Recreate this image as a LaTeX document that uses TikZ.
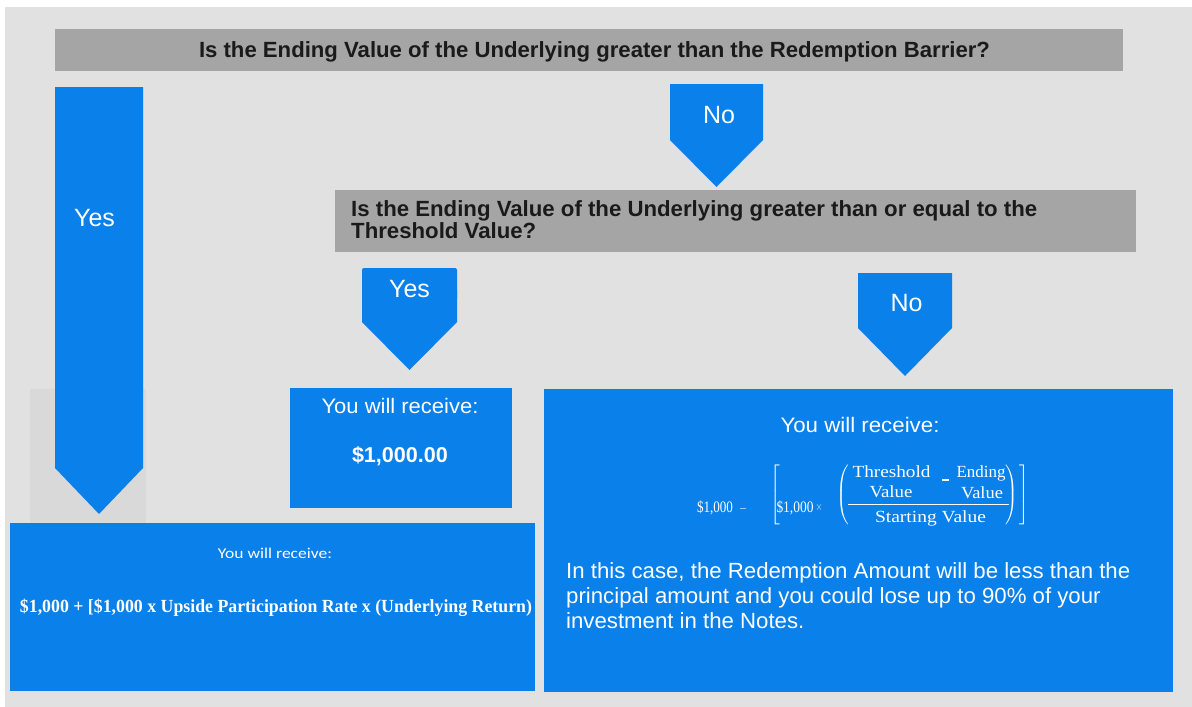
\documentclass[tikz,border=0pt]{standalone}
\usepackage{fontspec}
\usepackage{amsmath}
\setmainfont{Liberation Sans}
\newfontfamily\calib{Carlito}
\newfontfamily\serifb{Liberation Serif}
\newcommand\fitw[2]{\resizebox{#1}{\height}{#2}}
\newcommand\fs[1]{\fontsize{#1}{#1}\selectfont}
\newcommand\tallL[1]{\nulldelimiterspace=0pt$\left#1\vcenter{\hbox{\rule{0pt}{60pt}}}\right.$}
\newcommand\tallR[1]{\nulldelimiterspace=0pt$\left.\vcenter{\hbox{\rule{0pt}{60pt}}}\right#1$}
\definecolor{bgc}{HTML}{E1E1E1}
\definecolor{barc}{HTML}{A5A5A5}
\definecolor{bluc}{HTML}{0A80EA}
\definecolor{shadec}{HTML}{D9D9D9}
\definecolor{inkc}{HTML}{1A1A1A}
\newcommand\darrowshape[5]{\fill[bluc] (#1,#3) -- (#2,#3) -- (#2,#4) -- ({(#1+#2)/2},#5) -- (#1,#4) -- cycle;}
\tikzset{
  bartext/.style={text=inkc, font=\bfseries, inner sep=0pt},
  wtext/.style={text=white, inner sep=0pt},
  ftext/.style={text=white, inner sep=0pt, anchor=base, font=\serifb},
  delim/.style={text=white, inner sep=0pt, font=\fs{14}},
  fline/.style={draw=white, line width=1pt},
  bluebox/.style={fill=bluc},
}
\begin{document}
\begin{tikzpicture}[x=1pt,y=-1pt]
\useasboundingbox (0,0) rectangle (1192,707);
\fill[white] (0,0) rectangle (1192,707);
\fill[bgc] (5,7) rectangle (1192,707);
\fill[shadec] (30,389) rectangle (146,523);
% top question bar
\fill[barc] (55,29) rectangle (1123,71);
\node[bartext, anchor=base] (q1) at (594.5,57) {\fitw{791pt}{\fs{22}Is the Ending Value of the Underlying greater than the Redemption Barrier?}};
% left Yes arrow
\darrowshape{55}{143}{87}{468}{514}
\node[wtext, anchor=base] (yes1) at (94.5,226.5) {\fs{25}Yes};
% top No arrow
\darrowshape{670}{763}{84}{140}{187}
\node[wtext, anchor=base] (no1) at (719,123) {\fs{25}No};
% second question bar
\fill[barc] (335,190) rectangle (1136,252);
\node[bartext, anchor=base west] (q2) at (351,216) {\fitw{686pt}{\fs{22}\begin{tabular}[t]{@{}l@{}}Is the Ending Value of the Underlying greater than or equal to the\\Threshold Value?\end{tabular}}};
% second Yes arrow
\fill[bluc, rounded corners=2pt] (362,268) -- (457,268) -- (457,300) -- (362,300) -- cycle;
\darrowshape{362}{457}{290}{322}{370}
\node[wtext, anchor=base] (yes2) at (409.5,297) {\fs{25}Yes};
% second No arrow
\darrowshape{858}{952}{273}{328}{376}
\node[wtext, anchor=base] (no2) at (906.5,311) {\fs{25}No};
% box $1,000.00
\fill[bluebox] (290,388) rectangle (512,508);
\node[wtext, anchor=base] (r1) at (400,413) {\fitw{157pt}{\fs{21}You will receive:}};
\node[wtext, anchor=base] (r1v) at (400,462) {\fitw{96pt}{\fs{21.5}\bfseries\$1,000.00}};
% bottom-left box
\fill[bluebox] (10,523) rectangle (535,691);
\node[wtext, anchor=base] (r2) at (275,558) {\fitw{114pt}{\calib\fs{15}You will receive:}};
\node[wtext, anchor=base] (r2v) at (276,612) {\fitw{512pt}{\serifb\bfseries\fs{18.5}\$1,000 + [\$1,000 x Upside Participation Rate x (Underlying Return)}};
% right box
\fill[bluebox] (544,389) rectangle (1173,692);
\node[wtext, anchor=base] (r3) at (860,432) {\fitw{159pt}{\fs{21}You will receive:}};
% formula
\node[ftext] (fa) at (715,512) {\fitw{36pt}{\fs{16}\$1,000}};
\node[ftext] (fm) at (743,512) {\fitw{8pt}{\fs{14}$-$}};
\node[delim] (lbr) at (775,495) {\tallL[};
\node[ftext] (fb) at (795,512) {\fitw{37pt}{\fs{16}\$1,000}};
\node[ftext] (fx) at (819,510) {\fitw{7pt}{\fs{12}$\times$}};
\node[delim] (lpar) at (843,495) {\tallL(};
\node[ftext] (ft1) at (891.5,477) {\fitw{78pt}{\fs{17}Threshold}};
\node[ftext] (fmin) at (945.5,480.5) {\rule{7pt}{1.2pt}};
\node[ftext] (ft2) at (981,477) {\fitw{49pt}{\fs{17}Ending}};
\node[ftext] (fv1) at (891,497) {\fitw{43pt}{\fs{17}Value}};
\node[ftext] (fv2) at (982,498) {\fitw{42pt}{\fs{17}Value}};
\draw[fline] (848,504) -- (1009,504);
\node[ftext] (fsv) at (930.5,522) {\fitw{111pt}{\fs{17}Starting Value}};
\node[delim] (rpar) at (1012,495) {\tallR)};
\node[delim] (rbr) at (1024,495) {\tallR]};
% paragraph
\node[wtext, anchor=base west] (r3p) at (566,578) {\fitw{564pt}{\fs{22}\begin{tabular}[t]{@{}l@{}}In this case, the Redemption Amount will be less than the\\[2.5pt]principal amount and you could lose up to 90\% of your\\[2.5pt]investment in the Notes.\end{tabular}}};
\end{tikzpicture}
\end{document}
